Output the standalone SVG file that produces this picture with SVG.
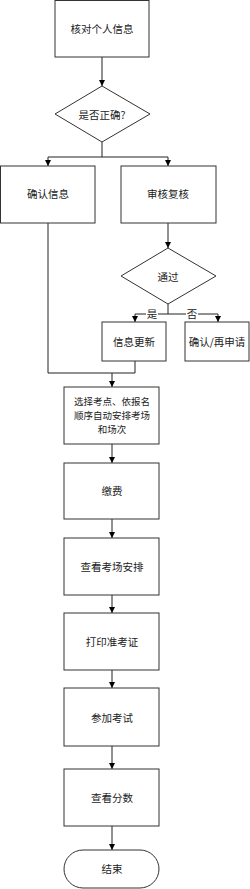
<svg xmlns="http://www.w3.org/2000/svg" width="250" height="889" viewBox="0 0 250 889">
<style>
.n{fill:#fff;stroke:#333;stroke-width:1}
.t{font-family:"Noto Sans CJK SC","Liberation Sans",sans-serif;font-size:10.5px;fill:#222;text-anchor:middle;dominant-baseline:central}
.s{font-size:9.5px}
.c{fill:none;stroke:#222;stroke-width:1}
.a{marker-end:url(#ah)}
</style>
<defs>
<marker id="ah" markerUnits="userSpaceOnUse" markerWidth="7" markerHeight="7" refX="6" refY="3" orient="auto">
<path d="M0,0 L6,3 L0,6 z" fill="#000"/>
</marker>
</defs>
<rect width="250" height="889" fill="#fff"/>
<g id="connectors">
<path class="c a" d="M102,57 V86"/>
<path class="c" d="M102,142 V157 M48,157 H168"/>
<path class="c a" d="M48,157 V166"/>
<path class="c a" d="M168,157 V166"/>
<path class="c a" d="M168,223 V248"/>
<path class="c" d="M168,304 V314 M135,314 H218"/>
<path class="c a" d="M135,314 V322"/>
<path class="c a" d="M218,314 V322"/>
<path class="c" d="M48,223 V373 H135 V361"/>
<path class="c a" d="M112,373 V387"/>
<path class="c a" d="M112,444 V463"/>
<path class="c a" d="M112,519 V538"/>
<path class="c a" d="M112,595 V613"/>
<path class="c a" d="M112,670 V688"/>
<path class="c a" d="M112,746 V769"/>
<path class="c a" d="M112,826 V850"/>
<rect x="146" y="307" width="12" height="13" fill="#fff"/>
<rect x="186" y="307" width="12" height="13" fill="#fff"/>
<text class="t" x="152" y="313">是</text>
<text class="t" x="192" y="313">否</text>
</g>
<g id="n1"><rect class="n" x="55" y="0.5" width="94" height="56.5"/><text class="t" x="102" y="28">核对个人信息</text></g>
<g id="n2"><path class="n" d="M102,86 L150,114 L102,142 L55,114 z"/><text class="t" x="102" y="114">是否正确?</text></g>
<g id="n3"><rect class="n" x="0.5" y="166" width="94.5" height="57"/><text class="t" x="48" y="193">确认信息</text></g>
<g id="n4"><rect class="n" x="121" y="166" width="95" height="57"/><text class="t" x="168" y="193">审核复核</text></g>
<g id="n5"><path class="n" d="M168,248 L216,276 L168,304 L121,276 z"/><text class="t" x="168" y="276">通过</text></g>
<g id="n6"><rect class="n" x="102" y="322" width="64" height="39"/><text class="t" x="134" y="341">信息更新</text></g>
<g id="n7"><rect class="n" x="185" y="322" width="64" height="39"/><text class="t" x="217" y="341">确认/再申请</text></g>
<g id="n8"><rect class="n" x="64" y="387" width="95" height="57"/><text class="t s" x="112" y="401">选择考点、依报名</text><text class="t s" x="112" y="415">顺序自动安排考场</text><text class="t s" x="112" y="429">和场次</text></g>
<g id="n9"><rect class="n" x="64" y="463" width="95" height="56"/><text class="t" x="112" y="490">缴费</text></g>
<g id="n10"><rect class="n" x="64" y="538" width="95" height="57"/><text class="t" x="112" y="566">查看考场安排</text></g>
<g id="n11"><rect class="n" x="64" y="613" width="95" height="57"/><text class="t" x="112" y="641">打印准考证</text></g>
<g id="n12"><rect class="n" x="64" y="688" width="95" height="58"/><text class="t" x="112" y="717">参加考试</text></g>
<g id="n13"><rect class="n" x="64" y="769" width="95" height="57"/><text class="t" x="112" y="797">查看分数</text></g>
<g id="n14"><rect class="n" x="64" y="850" width="95" height="38" rx="19" ry="19"/><text class="t" x="112" y="868">结束</text></g>
</svg>
